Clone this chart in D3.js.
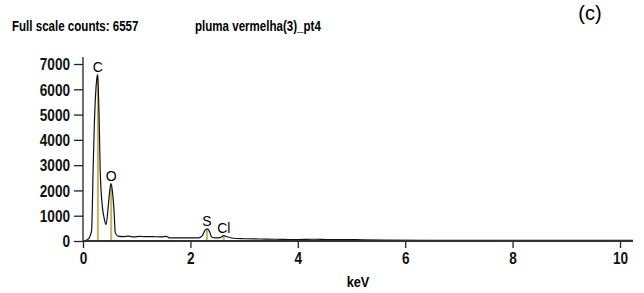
<!DOCTYPE html>
<html>
<head>
<meta charset="utf-8">
<script src="https://cdn.jsdelivr.net/npm/d3@7"></script>
<style>
  body { margin: 0; background: #fff; }
  svg { display: block; }
  .narrow { font-family: "Liberation Sans", Arial, sans-serif; font-weight: bold; }
</style>
</head>
<body>
<div class="graphContainer"></div>
<script>
// spectrum
var energy = [0, 0.06, 0.1, 0.13, 0.16, 0.19, 0.21, 0.235, 0.255, 0.27, 0.285, 0.3, 0.32, 0.36, 0.4, 0.43,
  0.47, 0.5, 0.52, 0.55, 0.58, 0.6, 0.65, 0.75, 0.85, 0.95, 1.05, 1.15, 1.3, 1.45, 1.55, 1.62, 1.8, 2.0,
  2.15, 2.22, 2.27, 2.31, 2.35, 2.4, 2.46, 2.55, 2.62, 2.68, 2.75, 2.85, 3.0, 3.3, 3.6, 4.0, 4.3, 4.6,
  4.9, 5.2, 5.6, 6.5, 8, 10.24];
var counts = [0, 10, 60, 170, 400, 2940, 4500, 5800, 6360, 6557, 6000, 4900, 2800, 1350, 830, 630,
  1350, 2000, 2250, 1900, 1100, 320, 170, 150, 170, 140, 165, 150, 155, 140, 160, 100, 100, 100,
  100, 180, 400, 460, 380, 130, 100, 110, 190, 150, 110, 80, 70, 60, 50, 40, 50, 35,
  40, 25, 15, 8, 4, 2];

var elements = ["C", "O", "S", "Cl"];
var lineEnergy = [0.277, 0.525, 2.307, 2.621];
var lineCounts = [6557, 2250, 460, 200];

var yTicks = [0, 1000, 2000, 3000, 4000, 5000, 6000, 7000];
var xTicks = [0, 2, 4, 6, 8, 10];

var width = 644;
var height = 293;

var svg = d3
  .select(".graphContainer")
  .append("svg")
  .attr("width", width)
  .attr("height", height);

var xScale = d3.scaleLinear().domain([0, 10]).range([83, 620]);
var yScale = d3.scaleLinear().domain([0, 7000]).range([241, 64]);

// squeeze bold text so it looks like the narrow font of the original
function narrow(sel, k) {
  sel.each(function () {
    var w = this.getComputedTextLength();
    d3.select(this).attr("textLength", w * k).attr("lengthAdjust", "spacingAndGlyphs");
  });
}

// header
svg.append("text").attr("class", "narrow").attr("x", 12).attr("y", 31)
  .style("font-size", "15px").text("Full scale counts: 6557").call(narrow, 0.77);
svg.append("text").attr("class", "narrow").attr("x", 195).attr("y", 31)
  .style("font-size", "15px").text("pluma vermelha(3)_pt4").call(narrow, 0.77);
svg.append("text").attr("x", 590).attr("y", 20).attr("text-anchor", "middle")
  .style("font-family", "Liberation Sans, sans-serif").style("font-size", "20px").text("(c)");

// y axis
var yAxis = d3.axisLeft(yScale).tickValues(yTicks).tickFormat(d3.format("d"))
  .tickSize(9).tickPadding(4).tickSizeOuter(0);
var yAxisGroup = svg.append("g").attr("transform", "translate(83,0)").call(yAxis);
yAxisGroup.select(".domain").remove();
yAxisGroup.append("line").attr("x1", 0).attr("x2", 0).attr("y1", 57).attr("y2", 241);
yAxisGroup.selectAll("line").attr("stroke", "#222").attr("stroke-width", 1.3);
yAxisGroup.selectAll("text").attr("class", "narrow").attr("fill", "#111")
  .style("font-size", "16px").attr("dy", "0.36em").call(narrow, 0.85);

// x axis
var xAxis = d3.axisBottom(xScale).tickValues(xTicks).tickFormat(d3.format("d"))
  .tickSize(7).tickPadding(5).tickSizeOuter(0);
var xAxisGroup = svg.append("g").attr("transform", "translate(0,241)").call(xAxis);
xAxisGroup.select(".domain").remove();
xAxisGroup.selectAll("line").attr("stroke", "#222").attr("stroke-width", 1.3);
xAxisGroup.selectAll("text").attr("class", "narrow").attr("fill", "#111")
  .style("font-size", "16px").call(narrow, 0.85);

svg.append("text").attr("class", "narrow").attr("x", 358).attr("y", 287)
  .attr("text-anchor", "middle").style("font-size", "15px").text("keV").call(narrow, 0.85);

// element marker lines
svg.selectAll(".marker")
  .data(elements)
  .enter()
  .append("line")
  .attr("class", "marker")
  .attr("x1", (d, i) => xScale(lineEnergy[i]))
  .attr("x2", (d, i) => xScale(lineEnergy[i]))
  .attr("y1", yScale(0))
  .attr("y2", (d, i) => yScale(lineCounts[i]))
  .attr("stroke", "#bdb564")
  .attr("stroke-width", 2);

// spectrum
var line = d3.line()
  .x((d, i) => xScale(energy[i]))
  .y((d) => yScale(d) - 0.5)
  .curve(d3.curveMonotoneX);

svg.append("path")
  .datum(counts)
  .attr("d", line)
  .attr("fill", "none")
  .attr("stroke", "#111")
  .attr("stroke-width", 1.2);

// x axis line drawn over the baseline
svg.append("line").attr("x1", 83).attr("x2", 633).attr("y1", 241).attr("y2", 241)
  .attr("stroke", "#333").attr("stroke-width", 2);

// element labels
svg.selectAll(".elabel")
  .data(elements)
  .enter()
  .append("text")
  .attr("class", "elabel")
  .attr("x", (d, i) => xScale(lineEnergy[i]))
  .attr("y", (d, i) => yScale(lineCounts[i]) - 3)
  .attr("text-anchor", "middle")
  .style("font-family", "Liberation Sans, sans-serif")
  .style("font-size", "14px")
  .text((d) => d);
</script>
</body>
</html>
